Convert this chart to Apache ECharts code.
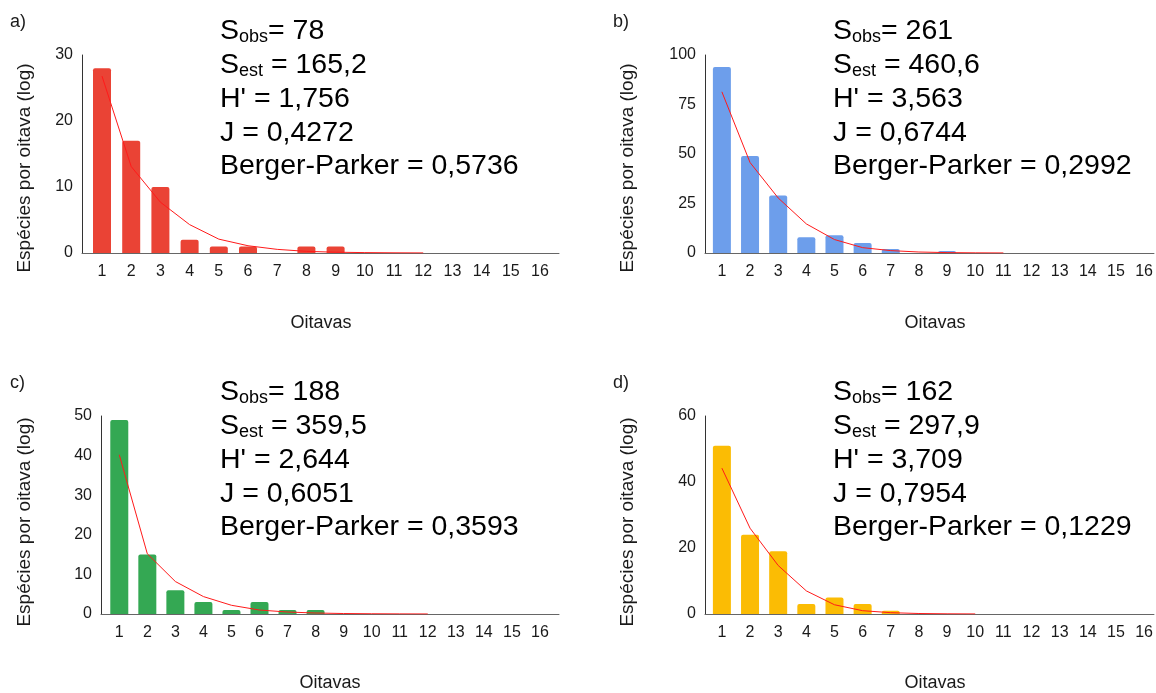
<!DOCTYPE html>
<html>
<head>
<meta charset="utf-8">
<script src="https://cdn.jsdelivr.net/npm/echarts@6/dist/echarts.min.js"></script>
<style>
html,body{margin:0;padding:0;background:#fff;}
#c{width:1156px;height:693px;}
</style>
</head>
<body>
<div id="c"></div>
<script>
// ---- data ----
var octaves = [1,2,3,4,5,6,7,8,9,10,11,12,13,14,15,16];

var barsA = [28,17,10,2,1,1,0,1,1,0,0,0,0,0,0,0];
var curveA = [26.8,13.1,7.7,4.3,2.1,1.1,0.55,0.25,0.12,0.06,0.03,0.01];

var barsB = [94,49,29,8,9,5,2,0,1,0,0,0,0,0,0,0];
var curveB = [81.4,45.7,27.8,14.7,6.8,2.7,1.2,0.5,0.2,0.08,0.03];

var barsC = [49,15,6,3,1,3,1,1,0,0,0,0,0,0,0,0];
var curveC = [40.2,15.2,8.2,4.4,2.2,1.0,0.5,0.25,0.12,0.06,0.03,0.01];

var barsD = [51,24,19,3,5,3,1,0,0,0,0,0,0,0,0,0];
var curveD = [44.2,26,14.7,7.0,2.8,1.0,0.4,0.15,0.06,0.02];

var yMax = [30,100,50,60];
var yStep = [10,25,10,20];

var panelLabels = ['a)','b)','c)','d)'];
var statsA = [['S','obs','= 78'],['S','est',' = 165,2'],["H' = 1,756"],['J = 0,4272'],['Berger-Parker = 0,5736']];
var statsB = [['S','obs','= 261'],['S','est',' = 460,6'],["H' = 3,563"],['J = 0,6744'],['Berger-Parker = 0,2992']];
var statsC = [['S','obs','= 188'],['S','est',' = 359,5'],["H' = 2,644"],['J = 0,6051'],['Berger-Parker = 0,3593']];
var statsD = [['S','obs','= 162'],['S','est',' = 297,9'],["H' = 3,709"],['J = 0,7954'],['Berger-Parker = 0,1229']];

var xTitle = 'Oitavas';
var yTitle = 'Espécies por oitava (log)';

// ---- layout ----
var FONT = "'Liberation Sans', Arial, Helvetica, sans-serif";
var colors = ['#EA4335','#6D9EEB','#34A853','#FBBC04'];
var bars = [barsA,barsB,barsC,barsD];
var curves = [curveA,curveB,curveC,curveD];
var stats = [statsA,statsB,statsC,statsD];

var panels = [
  {left:82,  right:559,  top:55,  bottom:253, xmin:0.315, xmax:16.65, lab:[10,24],  stx:220, sty:31,  ytx:25,  yty:168, otx:321, oty:323},
  {left:705, right:1156, top:55,  bottom:253, xmin:0.40,  xmax:16.35, lab:[613,24], stx:833, sty:31,  ytx:628, yty:168, otx:935, oty:323},
  {left:101, right:559,  top:416, bottom:614, xmin:0.348, xmax:16.68, lab:[10,385], stx:220, sty:392, ytx:25,  yty:522, otx:330, oty:683},
  {left:705, right:1156, top:416, bottom:614, xmin:0.40,  xmax:16.35, lab:[613,385],stx:833, sty:392, ytx:628, yty:522, otx:935, oty:683}
];

var grids=[], xAxes=[], yAxes=[], series=[], graphics=[];
panels.forEach(function(p,i){
  grids.push({left:p.left, top:p.top, width:p.right-p.left, height:p.bottom-p.top, containLabel:false});
  xAxes.push({
    type:'value', gridIndex:i, min:p.xmin, max:p.xmax,
    axisLine:{show:true, lineStyle:{color:'#666', width:1}},
    axisTick:{show:false}, splitLine:{show:false},
    axisLabel:{customValues:octaves, color:'#1a1a1a', fontSize:16, fontFamily:FONT, margin:11}
  });
  yAxes.push({
    type:'value', gridIndex:i, min:0, max:yMax[i], interval:yStep[i],
    axisLine:{show:true, lineStyle:{color:'#333', width:1}},
    axisTick:{show:false}, splitLine:{show:false},
    axisLabel:{color:'#1a1a1a', fontSize:16, fontFamily:FONT, margin:9}
  });
  series.push({
    type:'bar', xAxisIndex:i, yAxisIndex:i, barWidth:18,
    itemStyle:{color:colors[i], borderRadius:[2,2,0,0]},
    data: bars[i].map(function(v,k){return [octaves[k], v];}),
    z:2
  });
  series.push({
    type:'line', xAxisIndex:i, yAxisIndex:i, symbol:'none', smooth:false,
    lineStyle:{color:'#FF1A1A', width:1},
    data: curves[i].map(function(v,k){return [octaves[k], v];}),
    z:3
  });
  graphics.push({type:'text', left:p.lab[0], top:p.lab[1]-11,
    style:{text:panelLabels[i], font:'18px '+FONT, fill:'#1a1a1a'}});
  graphics.push({type:'text', x:p.otx, y:p.oty,
    style:{text:xTitle, font:'18px '+FONT, fill:'#1a1a1a', align:'center', verticalAlign:'middle'}});
  graphics.push({type:'text', x:p.ytx, y:p.yty, rotation:Math.PI/2,
    style:{text:yTitle, font:'19px '+FONT, fill:'#1a1a1a', align:'center', verticalAlign:'middle'}});
  stats[i].forEach(function(line,k){
    var txt;
    if(line.length===3){ txt='{b|'+line[0]+'}{s|'+line[1]+'}{b|'+line[2]+'}'; }
    else { txt='{b|'+line[0]+'}'; }
    graphics.push({type:'text', x:p.stx, y:p.sty+k*33.75,
      style:{text:txt, align:'left', verticalAlign:'middle',
        rich:{
          b:{fontSize:28.5, fontFamily:FONT, fill:'#000', lineHeight:30, verticalAlign:'bottom'},
          s:{fontSize:18, fontFamily:FONT, fill:'#000', lineHeight:27, verticalAlign:'bottom'}
        }}});
  });
});

var chart = echarts.init(document.getElementById('c'), null, {renderer:'canvas'});
chart.setOption({
  animation:false,
  backgroundColor:'#fff',
  grid:grids, xAxis:xAxes, yAxis:yAxes, series:series, graphic:graphics
});
</script>
</body>
</html>
